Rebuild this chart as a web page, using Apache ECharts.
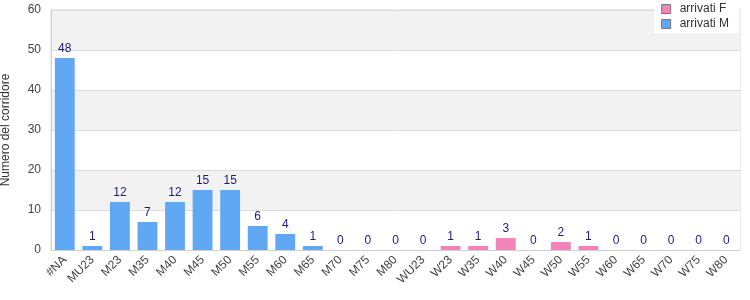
<!DOCTYPE html>
<html>
<head>
<meta charset="utf-8">
<script src="https://cdn.jsdelivr.net/npm/echarts@6/dist/echarts.min.js"></script>
<style>
	html, body { margin: 0; padding: 0; background: #fff; }
	#chart { width: 750px; height: 300px; }
</style>
</head>
<body>
<div id="chart"></div>
<script>
	var categories = ['#NA', 'MU23', 'M23', 'M35', 'M40', 'M45', 'M50', 'M55', 'M60', 'M65', 'M70', 'M75', 'M80',
		'WU23', 'W23', 'W35', 'W40', 'W45', 'W50', 'W55', 'W60', 'W65', 'W70', 'W75', 'W80'];
	var arrivatiM = [48, 1, 12, 7, 12, 15, 15, 6, 4, 1, 0, 0, 0,
		null, null, null, null, null, null, null, null, null, null, null, null];
	var arrivatiF = [null, null, null, null, null, null, null, null, null, null, null, null, null,
		0, 1, 1, 3, 0, 2, 1, 0, 0, 0, 0, 0];
	var yTicks = [0, 10, 20, 30, 40, 50, 60];

	var font = 'Liberation Sans';
	var chart = echarts.init(document.getElementById('chart'));
	var labelStyle = {
		show: true,
		position: 'top',
		color: '#1a1a8c',
		fontSize: 12,
		fontFamily: font,
		distance: 3
	};
	chart.setOption({
		animation: false,
		textStyle: { fontFamily: font },
		grid: {
			left: 51, right: 10, top: 10, bottom: 50,
			outerBoundsMode: 'none',
			show: true, borderColor: '#dcdcdc', borderWidth: 1
		},
		legend: {
			orient: 'vertical',
			right: 11, top: 0,
			backgroundColor: '#fff',
			padding: [3, 10, 3, 7],
			itemGap: 3,
			itemWidth: 9, itemHeight: 9,
			icon: 'rect',
			textStyle: { fontSize: 12, color: '#333', fontFamily: font, padding: [0, 0, 0, 4] },
			data: [
				{ name: 'arrivati F', itemStyle: { borderColor: '#777', borderWidth: 1 } },
				{ name: 'arrivati M', itemStyle: { borderColor: '#777', borderWidth: 1 } }
			]
		},
		xAxis: {
			type: 'category',
			data: categories,
			axisLine: { lineStyle: { color: '#d0d0d0' } },
			axisTick: { show: false },
			axisLabel: { rotate: 45, interval: 0, fontSize: 12, color: '#444', margin: 8 }
		},
		yAxis: {
			type: 'value',
			min: yTicks[0],
			max: yTicks[yTicks.length - 1],
			interval: 10,
			name: 'Numero del corridore',
			nameLocation: 'middle',
			nameGap: 39,
			nameTextStyle: { fontSize: 12, color: '#333' },
			axisLine: { show: true, lineStyle: { color: '#d0d0d0' } },
			axisTick: { show: false },
			axisLabel: { fontSize: 12, color: '#444', margin: 10 },
			splitLine: { lineStyle: { color: '#dcdcdc' } },
			splitArea: { show: true, areaStyle: { color: ['#ffffff', '#f2f2f2'] } }
		},
		series: [
			{
				name: 'arrivati F',
				type: 'bar',
				stack: 'tot',
				barWidth: '72%',
				data: arrivatiF,
				itemStyle: { color: '#f383bb' },
				label: labelStyle
			},
			{
				name: 'arrivati M',
				type: 'bar',
				stack: 'tot',
				barWidth: '72%',
				data: arrivatiM,
				itemStyle: { color: '#60a8f4' },
				label: labelStyle
			}
		]
	});
</script>
</body>
</html>
